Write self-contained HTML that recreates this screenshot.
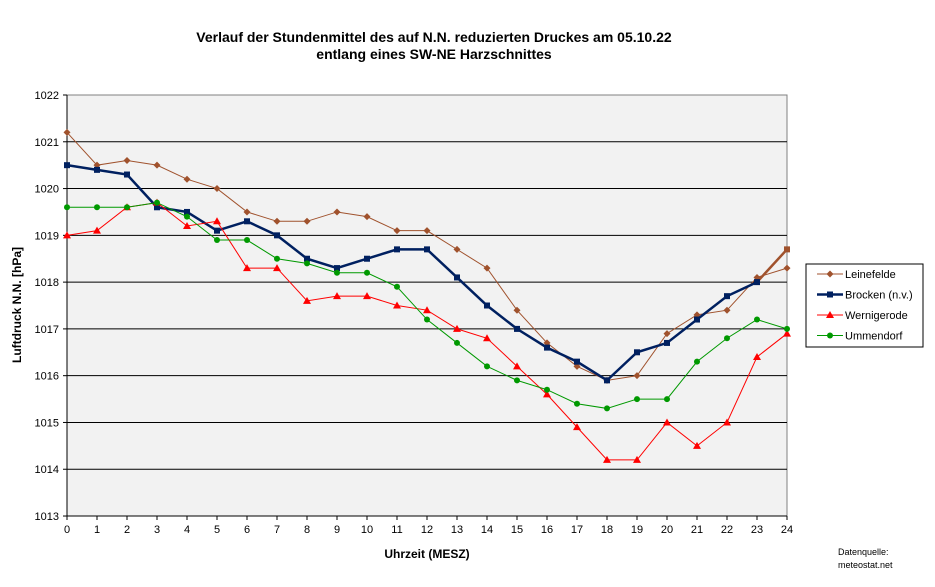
<!DOCTYPE html><html><head><meta charset="utf-8"><style>body{margin:0;background:#fff}svg{display:block;font-family:"Liberation Sans",Arial,sans-serif}</style></head><body>
<svg id="s" width="935" height="587" xmlns="http://www.w3.org/2000/svg">
<rect x="0" y="0" width="935" height="587" fill="#fff"/>
<text x="434" y="42" font-size="14" font-weight="bold" text-anchor="middle">Verlauf der Stundenmittel des auf N.N. reduzierten Druckes  am 05.10.22</text>
<text x="434" y="59" font-size="14" font-weight="bold" text-anchor="middle">entlang eines SW-NE Harzschnittes</text>
<rect x="67" y="95" width="720" height="421" fill="#f2f2f2" stroke="#808080"/>
<rect x="806" y="264" width="117" height="83" fill="#fff" stroke="#000"/>
<g id="g"></g>
<text transform="translate(21,305) rotate(-90)" font-size="12" font-weight="bold" text-anchor="middle">Luftdruck N.N. [hPa]</text>
<text x="427" y="558" font-size="12" font-weight="bold" text-anchor="middle">Uhrzeit (MESZ)</text>
<text x="838" y="555" font-size="9">Datenquelle:</text>
<text x="838" y="568" font-size="9">meteostat.net</text>
</svg>
<script>
var g=document.getElementById('g'),h='';
function X(i){return 67+30*i}function Y(v){return 95+(1022-v)*46.78}
for(var v=1013;v<=1022;v++){var y=Y(v);if(v>1013&&v<1022)h+='<line x1="67" x2="787" y1="'+y+'" y2="'+y+'" stroke="#000"/>';h+='<line x1="63" x2="67" y1="'+y+'" y2="'+y+'" stroke="#000"/><text x="59" y="'+(y+4)+'" font-size="11" text-anchor="end">'+v+'</text>';}
for(var i=0;i<=24;i++){h+='<line x1="'+X(i)+'" x2="'+X(i)+'" y1="516" y2="520" stroke="#000"/><text x="'+X(i)+'" y="533" font-size="11" text-anchor="middle">'+i+'</text>';}
h+='<line x1="67" x2="67" y1="95" y2="516" stroke="#000"/><line x1="67" x2="787" y1="516" y2="516" stroke="#000"/>';
var S=[
['Leinefelde','#a0522d',1,'d',[1021.2,1020.5,1020.6,1020.5,1020.2,1020.0,1019.5,1019.3,1019.3,1019.5,1019.4,1019.1,1019.1,1018.7,1018.3,1017.4,1016.7,1016.2,1015.9,1016.0,1016.9,1017.3,1017.4,1018.1,1018.3]],
['Brocken (n.v.)','#002060',2.5,'s',[1020.5,1020.4,1020.3,1019.6,1019.5,1019.1,1019.3,1019.0,1018.5,1018.3,1018.5,1018.7,1018.7,1018.1,1017.5,1017.0,1016.6,1016.3,1015.9,1016.5,1016.7,1017.2,1017.7,1018.0,1018.7]],
['Wernigerode','#ff0000',1,'t',[1019.0,1019.1,1019.6,1019.7,1019.2,1019.3,1018.3,1018.3,1017.6,1017.7,1017.7,1017.5,1017.4,1017.0,1016.8,1016.2,1015.6,1014.9,1014.2,1014.2,1015.0,1014.5,1015.0,1016.4,1016.9]],
['Ummendorf','#009900',1,'c',[1019.6,1019.6,1019.6,1019.7,1019.4,1018.9,1018.9,1018.5,1018.4,1018.2,1018.2,1017.9,1017.2,1016.7,1016.2,1015.9,1015.7,1015.4,1015.3,1015.5,1015.5,1016.3,1016.8,1017.2,1017.0]]];
function M(t,x,y,c){if(t=='d')return '<path d="M'+x+' '+(y-3.5)+'L'+(x+3.5)+' '+y+'L'+x+' '+(y+3.5)+'L'+(x-3.5)+' '+y+'Z" fill="'+c+'"/>';
if(t=='s')return '<rect x="'+(x-3)+'" y="'+(y-3)+'" width="6" height="6" fill="'+c+'"/>';
if(t=='t')return '<path d="M'+x+' '+(y-4)+'L'+(x+4)+' '+(y+3)+'L'+(x-4)+' '+(y+3)+'Z" fill="'+c+'"/>';
return '<circle cx="'+x+'" cy="'+y+'" r="3" fill="'+c+'"/>';}
S.forEach(function(s,k){var d=s[4],n=s[0]=='Brocken (n.v.)'?23:24,p='';
for(var i=0;i<=n;i++)p+=(i?'L':'M')+X(i)+' '+Y(d[i]);
h+='<path d="'+p+'" fill="none" stroke="'+s[1]+'" stroke-width="'+s[2]+'"/>';
if(n==23)h+='<line x1="'+X(23)+'" y1="'+Y(d[23])+'" x2="'+X(24)+'" y2="'+Y(d[24])+'" stroke="#a0522d" stroke-width="2.5"/>';
for(var i=0;i<=24;i++)h+=M(s[3],X(i),Y(d[i]),(n==23&&i==24)?'#a0522d':s[1]);
var ly=274+k*20.5;h+='<line x1="817" x2="843" y1="'+ly+'" y2="'+ly+'" stroke="'+s[1]+'" stroke-width="'+s[2]+'"/>'+M(s[3],830,ly,s[1])+'<text x="845" y="'+(ly+4)+'" font-size="11">'+s[0]+'</text>';});
g.innerHTML=h;
</script></body></html>
